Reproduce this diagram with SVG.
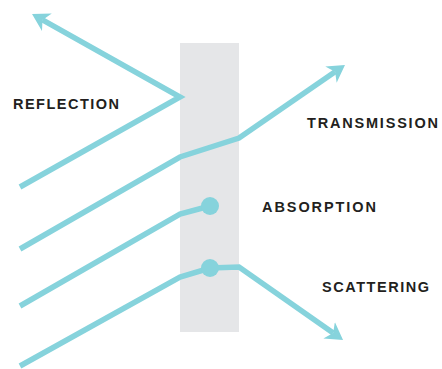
<svg xmlns="http://www.w3.org/2000/svg" width="442" height="369" viewBox="0 0 442 369">
<style>
.ray{fill:none;stroke:#86d3dc;stroke-width:5.5;stroke-linejoin:miter}
.dot{fill:#86d3dc}
.lbl{font-family:"Liberation Sans",Arial,sans-serif;font-weight:bold;font-size:14.5px;fill:#231f20}
</style>
<defs>
<marker id="ah" markerUnits="userSpaceOnUse" markerWidth="20" markerHeight="24" viewBox="0 -12 20 24" refX="5" refY="0" orient="auto">
<path d="M17,0 L0,-10 L5,0 L0,10 Z" fill="#86d3dc"/>
</marker>
</defs>
<rect id="medium" x="180" y="43" width="59" height="289" fill="#e5e6e8"/>
<g id="connectors">
<polyline class="ray" points="20,187 180,97 42.5,19.9" marker-end="url(#ah)"/>
<polyline class="ray" points="20,249 180,157 239,138 335.1,71.8" marker-end="url(#ah)"/>
<polyline class="ray" points="20,366 180,277 210,268 239,267 333.2,333.1" marker-end="url(#ah)"/>
<polyline class="ray" points="20,306 180,214 210,206"/>
</g>
<g id="absorption-point"><circle class="dot" cx="210" cy="206" r="9"/></g>
<g id="scattering-point"><circle class="dot" cx="210" cy="268" r="9"/></g>
<g id="reflection"><text class="lbl" x="13" y="109" textLength="106" lengthAdjust="spacing">REFLECTION</text></g>
<g id="transmission"><text class="lbl" x="307" y="128" textLength="131" lengthAdjust="spacing">TRANSMISSION</text></g>
<g id="absorption"><text class="lbl" x="262" y="212" textLength="114" lengthAdjust="spacing">ABSORPTION</text></g>
<g id="scattering"><text class="lbl" x="322" y="292" textLength="107" lengthAdjust="spacing">SCATTERING</text></g>
</svg>
